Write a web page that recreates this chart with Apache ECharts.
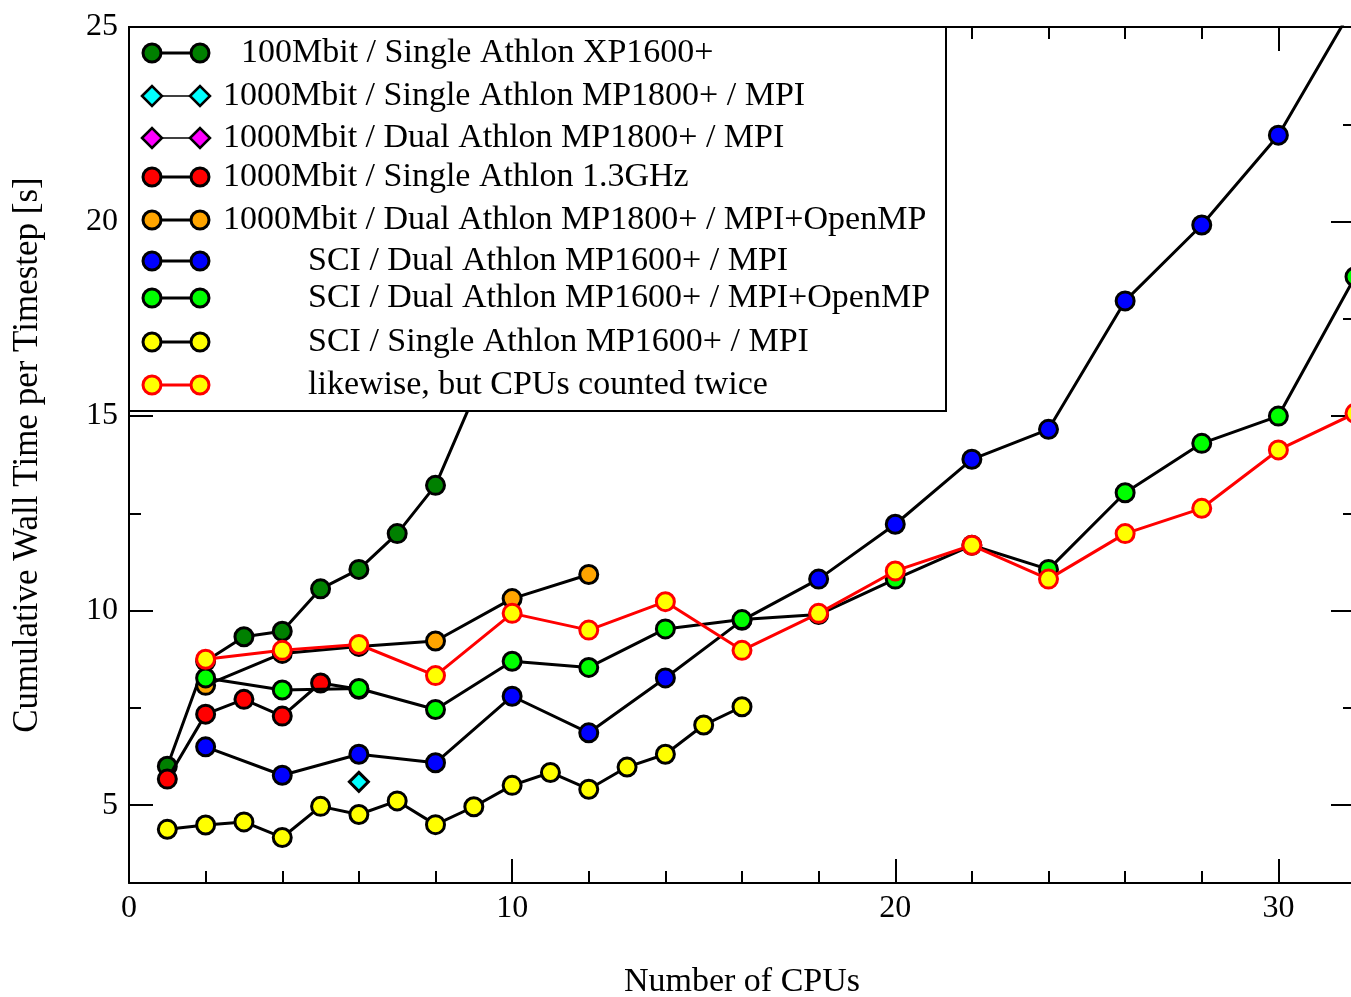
<!DOCTYPE html>
<html>
<head>
<meta charset="utf-8">
<script src="https://cdn.jsdelivr.net/npm/echarts@6/dist/echarts.min.js"></script>
<style>
  html, body { margin: 0; padding: 0; background: #fff; }
  #chart { width: 1351px; height: 997px; }
</style>
</head>
<body>
<div id="chart"></div>
<script>
// ---- data ----
const cpus100Single = [1, 2, 3, 4, 5, 6, 7, 8, 9]
const time100Single = [6.0, 8.7, 9.33, 9.47, 10.56, 11.06, 11.98, 13.22, 15.5]

const cpusGbitSingleMpi = [6]
const timeGbitSingleMpi = [5.6]

const cpusGbitDualMpi = []
const timeGbitDualMpi = []

const cpusGbitAthlon13 = [1, 2, 3, 4, 5, 6]
const timeGbitAthlon13 = [5.67, 7.34, 7.72, 7.29, 8.14, 7.98]

const cpusGbitDualHybrid = [2, 4, 6, 8, 10, 12]
const timeGbitDualHybrid = [8.08, 8.9, 9.08, 9.22, 10.31, 10.93]

const cpusSciDualMpi = [2, 4, 6, 8, 10, 12, 14, 16, 18, 20, 22, 24, 26, 28, 30, 32]
const timeSciDualMpi = [6.5, 5.77, 6.31, 6.09, 7.8, 6.86, 8.27, 9.75, 10.81, 12.22, 13.89, 14.66, 17.96, 19.91, 22.22, 25.6]

const cpusSciDualHybrid = [2, 4, 6, 8, 10, 12, 14, 16, 18, 20, 22, 24, 26, 28, 30, 32]
const timeSciDualHybrid = [8.27, 7.96, 8.0, 7.46, 8.7, 8.54, 9.53, 9.77, 9.9, 10.81, 11.68, 11.06, 13.03, 14.3, 15.0, 18.58]

const cpusSciSingle = [1, 2, 3, 4, 5, 6, 7, 8, 9, 10, 11, 12, 13, 14, 15, 16]
const timeSciSingle = [4.38, 4.49, 4.57, 4.17, 4.97, 4.76, 5.11, 4.5, 4.96, 5.51, 5.84, 5.41, 5.98, 6.31, 7.06, 7.53]

const cpusSciTwice = [2, 4, 6, 8, 10, 12, 14, 16, 18, 20, 22, 24, 26, 28, 30, 32]
const timeSciTwice = [8.75, 8.98, 9.13, 8.33, 9.93, 9.5, 10.23, 8.98, 9.93, 11.02, 11.68, 10.81, 11.98, 12.63, 14.13, 15.07]

const seriesNames = [
  '100Mbit / Single Athlon XP1600+',
  '1000Mbit / Single Athlon MP1800+ / MPI',
  '1000Mbit / Dual Athlon MP1800+ / MPI',
  '1000Mbit / Single Athlon 1.3GHz',
  '1000Mbit / Dual Athlon MP1800+ / MPI+OpenMP',
  'SCI / Dual Athlon MP1600+ / MPI',
  'SCI / Dual Athlon MP1600+ / MPI+OpenMP',
  'SCI / Single Athlon MP1600+ / MPI',
  'likewise, but CPUs counted twice'
]

// tick positions
const xMajorTicks = [0, 10, 20, 30]
const xMinorTicks = [2, 4, 6, 8, 12, 14, 16, 18, 22, 24, 26, 28, 32]
const yMajorTicks = [5, 10, 15, 20, 25]
const yMinorTicks = [7.5, 12.5, 17.5, 22.5]

// ---- styling ----
const xs = [cpus100Single, cpusGbitSingleMpi, cpusGbitDualMpi, cpusGbitAthlon13, cpusGbitDualHybrid,
  cpusSciDualMpi, cpusSciDualHybrid, cpusSciSingle, cpusSciTwice]
const ys = [time100Single, timeGbitSingleMpi, timeGbitDualMpi, timeGbitAthlon13, timeGbitDualHybrid,
  timeSciDualMpi, timeSciDualHybrid, timeSciSingle, timeSciTwice]
const fills = ['#008000', '#00ffff', '#ff00ff', '#ff0000', '#ffa500', '#0000ff', '#00ff00', '#ffff00', '#ffff00']
const edges = ['#000', '#000', '#000', '#000', '#000', '#000', '#000', '#000', '#ff0000']
const shapes = ['circle', 'diamond', 'diamond', 'circle', 'circle', 'circle', 'circle', 'circle', 'circle']

const font = '"Liberation Serif", "Times New Roman", "DejaVu Serif", serif'
const gridBox = { left: 129, right: -4, top: 27, bottom: 114, outerBoundsMode: 'none' }

const series = seriesNames.map((name, i) => ({
  name,
  type: 'line',
  xAxisIndex: 0,
  yAxisIndex: 0,
  data: xs[i].map((x, k) => [x, ys[i][k]]),
  symbol: shapes[i],
  symbolSize: shapes[i] === 'diamond' ? 19 : 18,
  showAllSymbol: true,
  clip: true,
  lineStyle: { color: edges[i], width: 3 },
  itemStyle: { color: fills[i], borderColor: edges[i], borderWidth: 3 },
  emphasis: { disabled: true },
  z: 2 + i
}))

function xAxisDef(pos, grid, ticks, len, labels, line) {
  return {
    type: 'value', gridIndex: grid, position: pos, min: 0, max: 32,
    axisLine: { show: line, onZero: false, lineStyle: { color: '#000', width: 2 } },
    axisTick: { show: true, inside: true, length: len, customValues: ticks, lineStyle: { color: '#000', width: 2 } },
    axisLabel: { show: labels, customValues: ticks, margin: 10, color: '#000', fontSize: 32, fontFamily: font },
    splitLine: { show: false },
    name: labels ? 'Number of CPUs' : '',
    nameLocation: 'middle', nameGap: 82,
    nameTextStyle: { color: '#000', fontSize: 34, fontFamily: font }
  }
}

function yAxisDef(pos, grid, ticks, len, labels, line) {
  return {
    type: 'value', gridIndex: grid, position: pos, min: 3, max: 25,
    axisLine: { show: line, onZero: false, lineStyle: { color: '#000', width: 2 } },
    axisTick: { show: true, inside: true, length: len, customValues: ticks, lineStyle: { color: '#000', width: 2 } },
    axisLabel: { show: labels, customValues: ticks, margin: 11, color: '#000', fontSize: 32, fontFamily: font },
    splitLine: { show: false },
    name: labels ? 'Cumulative Wall Time per Timestep [s]' : '',
    nameLocation: 'middle', nameGap: 84,
    nameTextStyle: { color: '#000', fontSize: 35, fontFamily: font }
  }
}

// legend drawn by hand (xmgrace style box)
const legendRowY = [53, 96, 138, 177, 220, 261, 298, 342, 385]
const legendTextX = [241, 223, 223, 223, 223, 308, 308, 308, 308]
const legendEls = [{
  type: 'rect', z: 100,
  shape: { x: 129, y: 27, width: 817, height: 384 },
  style: { fill: '#fff', stroke: '#000', lineWidth: 2 }
}]
seriesNames.forEach((name, i) => {
  const cy = legendRowY[i]
  const diamond = shapes[i] === 'diamond'
  legendEls.push({
    type: 'line', z: 101,
    shape: { x1: 152, y1: cy, x2: 200, y2: cy },
    style: { stroke: edges[i], lineWidth: diamond ? 1.5 : 3 }
  })
  ;[152, 200].forEach(cx => {
    if (diamond) {
      legendEls.push({
        type: 'polygon', z: 102,
        shape: { points: [[cx - 10, cy], [cx, cy - 10], [cx + 10, cy], [cx, cy + 10]] },
        style: { fill: fills[i], stroke: '#000', lineWidth: 2.5 }
      })
    } else {
      legendEls.push({
        type: 'circle', z: 102,
        shape: { cx, cy, r: 9 },
        style: { fill: fills[i], stroke: edges[i], lineWidth: 3 }
      })
    }
  })
  legendEls.push({
    type: 'text', z: 102,
    style: {
      text: name, x: legendTextX[i], y: cy, fill: '#000',
      fontSize: 34, fontFamily: font, verticalAlign: 'middle', align: 'left'
    }
  })
})

const chart = echarts.init(document.getElementById('chart'), null, { renderer: 'canvas' })
chart.setOption({
  animation: false,
  backgroundColor: '#fff',
  grid: [Object.assign({}, gridBox), Object.assign({}, gridBox)],
  xAxis: [
    xAxisDef('bottom', 0, xMajorTicks, 24, true, true),
    xAxisDef('top', 0, xMajorTicks, 24, false, true),
    xAxisDef('bottom', 1, xMinorTicks, 12, false, false),
    xAxisDef('top', 1, xMinorTicks, 12, false, false)
  ],
  yAxis: [
    yAxisDef('left', 0, yMajorTicks, 24, true, true),
    yAxisDef('right', 0, yMajorTicks, 24, false, true),
    yAxisDef('left', 1, yMinorTicks, 12, false, false),
    yAxisDef('right', 1, yMinorTicks, 12, false, false)
  ],
  series,
  graphic: legendEls
})
</script>
</body>
</html>
